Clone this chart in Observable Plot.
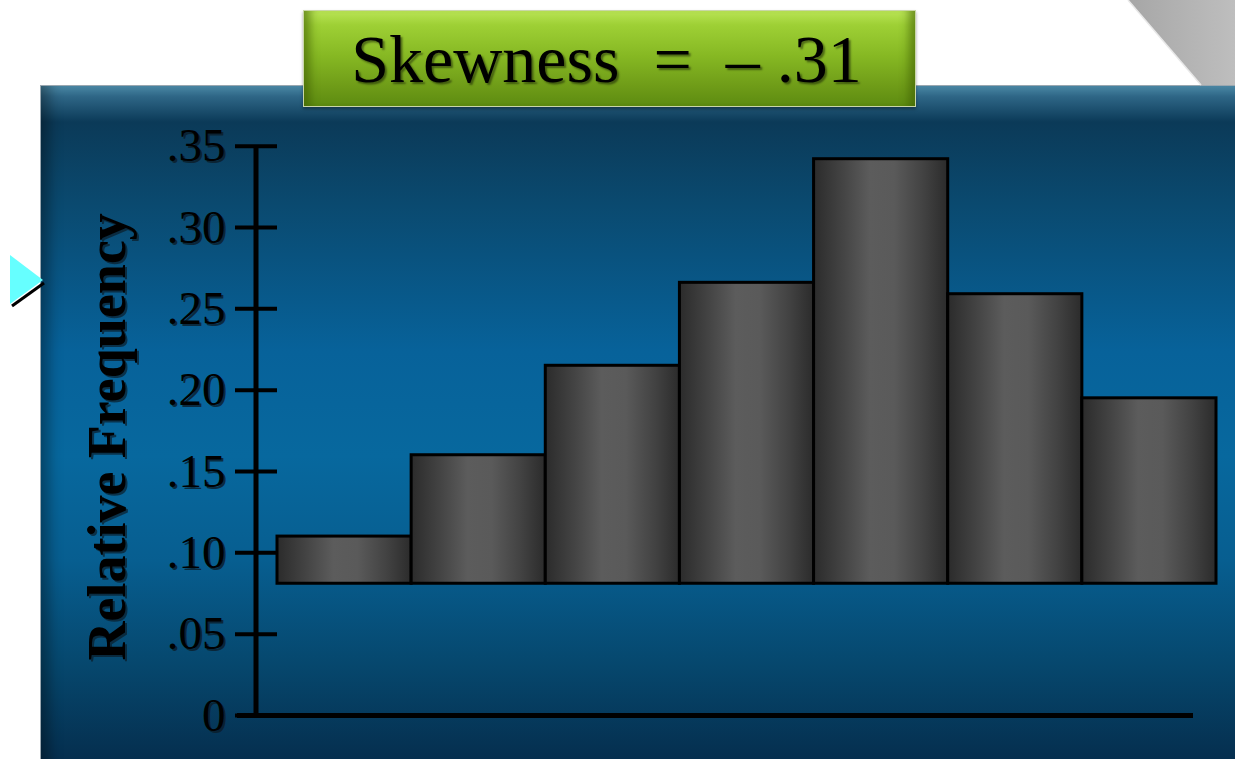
<!DOCTYPE html>
<html>
<head>
<meta charset="utf-8">
<script src="https://cdn.jsdelivr.net/npm/d3@7"></script>
<script src="https://cdn.jsdelivr.net/npm/@observablehq/plot@0.6"></script>
<style>
  html, body { margin: 0; padding: 0; background: #ffffff; }
  #page { position: relative; width: 1235px; height: 759px; overflow: hidden; background: #ffffff; }
  #panel {
    position: absolute; left: 40px; top: 85px; width: 1215px; height: 690px;
    border-top: 1px solid #9aa7b0; border-left: 1px solid #9aa7b0;
    background: linear-gradient(to bottom, #4c8aa8 0px, #2f6787 10px, #0b3a58 36px, #0a4a70 120px,
      #07629a 265px, #07689e 370px, #075e90 475px, #06476d 580px, #052f4f 672px);
    box-shadow: inset 16px 0 14px -8px rgba(0,0,0,0.35);
  }
  #title {
    position: absolute; left: 303px; top: 10px; width: 613px; height: 97px;
    box-sizing: border-box; border: 1px solid #c9d7a8;
    background: linear-gradient(to bottom, #b9e455 0px, #9ed035 14px, #86b823 45px, #6f9c18 75px, #5b8a10 97px);
    box-shadow: inset 14px 0 10px -8px rgba(60,90,0,0.6), inset -14px 0 10px -8px rgba(60,90,0,0.6), 0 2px 3px rgba(0,0,0,0.35);
    display: flex; align-items: center; justify-content: center;
    font-family: "Liberation Serif", "Times New Roman", serif; font-size: 68px; color: #000;
    white-space: pre; text-shadow: 2px 2px 2px rgba(0,0,0,0.45); line-height: 1;
    padding-right: 6px;
  }
  #deco { position: absolute; left: 0; top: 0; }
  #chart { position: absolute; left: 0; top: 0; }
</style>
</head>
<body>
<div id="page">
  <div id="panel"></div>
  <svg id="deco" width="1235" height="759">
    <defs>
      <linearGradient id="curlGrad" x1="0" y1="0" x2="1" y2="0">
        <stop offset="0" stop-color="#a6a6a6"/>
        <stop offset="1" stop-color="#bebebe"/>
      </linearGradient>
    </defs>
    <polygon points="1128,0 1201,85 1235,85 1235,0" fill="url(#curlGrad)"/>
    <line x1="1128" y1="0" x2="1201" y2="85" stroke="#e8e8e8" stroke-width="1.5"/>
    <polygon points="10,255 43,280 10,304" fill="#66ffff"/>
    <line x1="12" y1="306" x2="44" y2="283" stroke="#000" stroke-width="3"/>
  </svg>
  <div id="title">Skewness  =  – .31</div>
  <div id="chart"></div>
</div>
<script>
// ---- data ----
const classIndex = [0, 1, 2, 3, 4, 5, 6];
const relFreq = [0.110, 0.160, 0.215, 0.266, 0.342, 0.259, 0.195];
const barBase = 0.081;
const yTicks = [0, 0.05, 0.10, 0.15, 0.20, 0.25, 0.30, 0.35];
const yTickLabels = ["0", ".05", ".10", ".15", ".20", ".25", ".30", ".35"];
const yLabel = "Relative Frequency";

const bins = classIndex.map((c, i) => ({x1: c, x2: c + 1, freq: relFreq[i]}));
const serif = "'Liberation Serif', 'Times New Roman', serif";

const chart = Plot.plot({
  width: 1235,
  height: 759,
  marginTop: 145.7,
  marginBottom: 44,
  marginLeft: 277,
  marginRight: 42,
  style: {background: "transparent", color: "black", overflow: "visible"},
  x: {domain: [0, classIndex.length], range: [277, 1216], axis: null},
  y: {domain: [0, d3.max(yTicks)], axis: null},
  marks: [
    // tick label shadows
    Plot.axisY(yTicks, {
      anchor: "left", tickSize: 0, tickPadding: 52, dx: 2, dy: 2,
      tickFormat: d => yTickLabels[yTicks.indexOf(d)],
      fontSize: 47, fontFamily: serif, fill: "#0b1c28", fillOpacity: 0.8, label: null
    }),
    Plot.axisY(yTicks, {
      anchor: "left", tickSize: 42, tickPadding: 10, strokeWidth: 4,
      tickFormat: d => yTickLabels[yTicks.indexOf(d)],
      fontSize: 47, fontFamily: serif, label: null
    }),
    Plot.ruleX([0], {y1: 0, y2: d3.max(yTicks), dx: -21.5, strokeWidth: 5, stroke: "black"}),
    Plot.ruleY([0], {strokeWidth: 5, stroke: "black", insetLeft: -40}),
    Plot.rectY(bins, {
      x1: "x1", x2: "x2", y1: barBase, y2: "freq",
      fill: "url(#barGrad)", stroke: "black", strokeWidth: 3
    }),
    Plot.text([yLabel], {
      frameAnchor: "left", textAnchor: "middle", rotate: -90, dx: -168, dy: 8,
      fontSize: 54, fontWeight: "bold", fontFamily: serif, fill: "#0b1c28", fillOpacity: 0.7
    }),
    Plot.text([yLabel], {
      frameAnchor: "left", textAnchor: "middle", rotate: -90, dx: -170, dy: 6,
      fontSize: 54, fontWeight: "bold", fontFamily: serif, fill: "black"
    })
  ]
});

// bar gradient definition
const ns = "http://www.w3.org/2000/svg";
const defs = document.createElementNS(ns, "defs");
const grad = document.createElementNS(ns, "linearGradient");
grad.setAttribute("id", "barGrad");
grad.setAttribute("x1", "0"); grad.setAttribute("y1", "0");
grad.setAttribute("x2", "1"); grad.setAttribute("y2", "0");
[[0, "#2b2b2b"], [0.22, "#444444"], [0.42, "#5c5c5c"], [0.6, "#5a5a5a"], [0.82, "#424242"], [1, "#2b2b2b"]]
  .forEach(([o, c]) => {
    const s = document.createElementNS(ns, "stop");
    s.setAttribute("offset", o); s.setAttribute("stop-color", c);
    grad.appendChild(s);
  });
defs.appendChild(grad);
chart.insertBefore(defs, chart.firstChild);

document.getElementById("chart").appendChild(chart);
</script>
</body>
</html>
